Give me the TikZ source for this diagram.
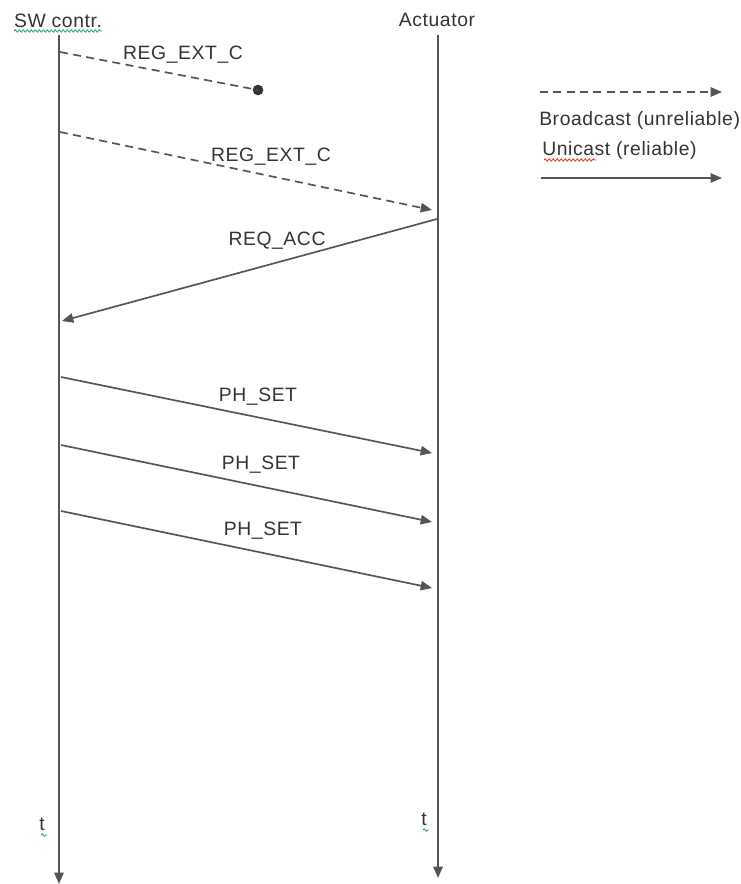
\documentclass[tikz,border=0pt]{standalone}
\usepackage{fontspec}
\setmainfont[LetterSpace=3]{Liberation Sans}
\usetikzlibrary{arrows.meta,decorations.pathmorphing}
\definecolor{linec}{HTML}{5A5252}
\definecolor{textc}{HTML}{333333}
\definecolor{spellg}{HTML}{2E9E6E}
\definecolor{spellr}{HTML}{E03030}
\tikzset{
  lbl/.style={text=textc, font=\fontsize{14.5}{17}\selectfont, inner sep=0pt},
  msg/.style={draw=linec, line width=1.25pt, -{Triangle[length=8.5pt,width=7pt]}},
  bcast/.style={msg, dash pattern=on 6pt off 4pt},
  life/.style={draw=linec, line width=1.4pt, -{Triangle[length=8.5pt,width=7pt]}},
  squig/.style={draw=#1, line width=0.6pt, decorate, decoration={snake, amplitude=0.9pt, segment length=3pt}}
}
\begin{document}
\begin{tikzpicture}[x=0.75pt,y=-0.75pt]
\useasboundingbox (0,0) rectangle (741,884);
\fill[white] (0,0) rectangle (741,884);
% heads
\node[lbl] (sw) at (58,21) {SW contr.};
\node[lbl] (act) at (437,20) {Actuator};
\draw[squig=spellg] (14,31) -- (102,31);
% lifelines
\coordinate (l0) at (59,35);
\coordinate (l1) at (59,884);
\coordinate (r0) at (438,35);
\coordinate (r1) at (438,878);
\draw[life] (l0) -- (l1);
\draw[life] (r0) -- (r1);
% message 1 (lost)
\coordinate (m1a) at (60,52);
\node[circle, fill=textc, inner sep=0pt, minimum size=8pt] (dot) at (258,90) {};
\draw[draw=linec, line width=1.25pt, dash pattern=on 6pt off 4pt] (m1a) -- (dot.center);
\node[lbl] (t1) at (183,55) {REG\_EXT\_C};
% message 2
\coordinate (m2a) at (60,132);
\coordinate (m2b) at (432,210);
\draw[bcast] (m2a) -- (m2b);
\node[lbl] (t2) at (271,157) {REG\_EXT\_C};
% REQ_ACC
\coordinate (m3a) at (437,219);
\coordinate (m3b) at (62,321);
\draw[msg] (m3a) -- (m3b);
\node[lbl] (t3) at (277,241) {REQ\_ACC};
% PH_SET
\coordinate (m4a) at (61,377);
\coordinate (m4b) at (432,453);
\draw[msg] (m4a) -- (m4b);
\node[lbl] (t4) at (258,397) {PH\_SET};
\coordinate (m5a) at (61,445);
\coordinate (m5b) at (432,522);
\draw[msg] (m5a) -- (m5b);
\node[lbl] (t5) at (261,465) {PH\_SET};
\coordinate (m6a) at (61,511);
\coordinate (m6b) at (432,588);
\draw[msg] (m6a) -- (m6b);
\node[lbl] (t6) at (263,531) {PH\_SET};
% legend
\coordinate (ga) at (540,92);
\coordinate (gb) at (722,92);
\draw[bcast] (ga) -- (gb);
\node[lbl, anchor=west] (bc) at (539,120) {Broadcast (unreliable)};
\node[lbl, anchor=west] (uc) at (542,150) {Unicast (reliable)};
\draw[squig=spellr] (544,160) -- (596,160);
\coordinate (ha) at (541,178);
\coordinate (hb) at (722,178);
\draw[msg] (ha) -- (hb);
% time labels
\node[lbl] (tl) at (42,824) {t};
\draw[squig=spellg] (41,835) -- (47,835);
\node[lbl] (tr) at (424,819) {t};
\draw[squig=spellg] (423,830) -- (429,830);
\end{tikzpicture}
\end{document}
